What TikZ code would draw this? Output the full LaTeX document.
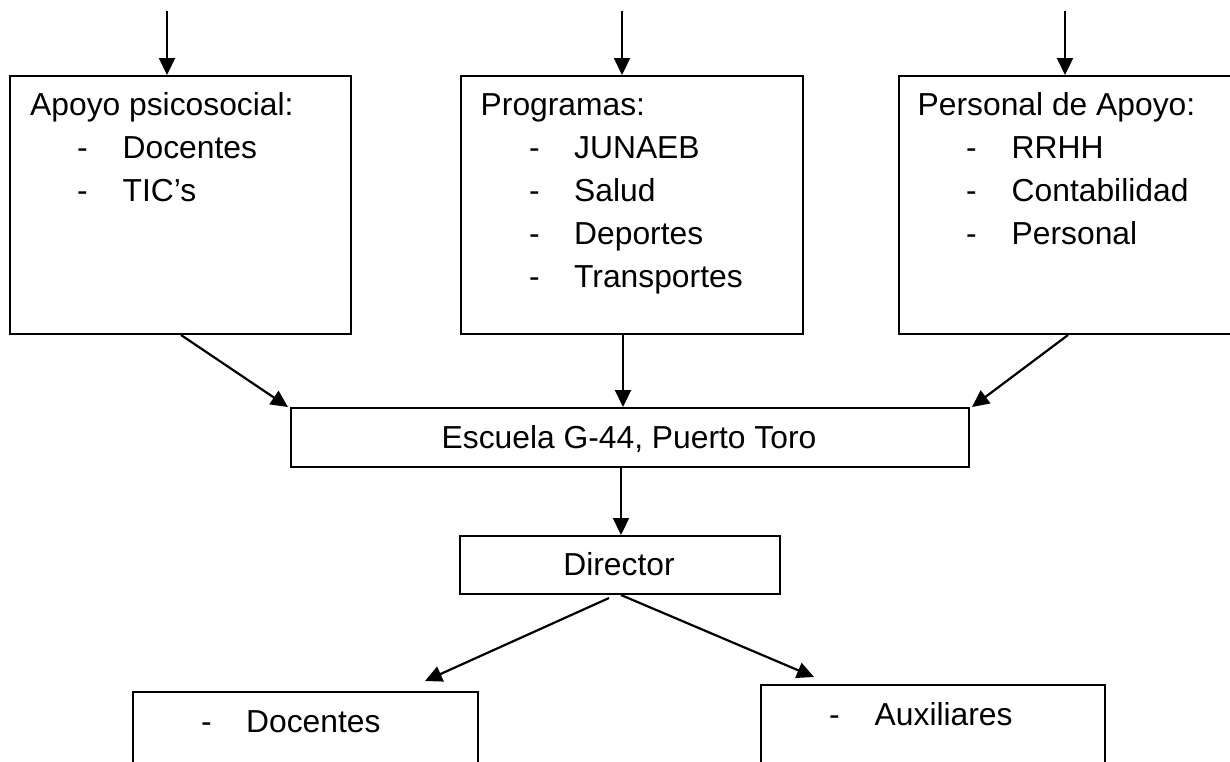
\documentclass[tikz,border=0pt]{standalone}
\usepackage{fontspec}
\setmainfont{Liberation Sans}
\usetikzlibrary{arrows.meta}
\tikzset{
  box/.style={draw, line width=2pt, inner sep=0pt, anchor=north west, rectangle},
  txt/.style={anchor=base west, inner sep=0pt, font=\fontsize{31.8pt}{38pt}\selectfont},
  ctxt/.style={anchor=base, inner sep=0pt, font=\fontsize{31.8pt}{38pt}\selectfont},
  arr/.style={line width=2.2pt, -{Triangle[length=17pt,width=16pt]}}
}
\begin{document}
\begin{tikzpicture}[x=1pt,y=-1pt]
\clip (0,0) rectangle (1230,761);
\fill[white] (0,0) rectangle (1230,761);
% boxes
\node[box, minimum width=341pt, minimum height=258pt] (b1) at (9,75) {};
\node[box, minimum width=342pt, minimum height=258pt] (b2) at (460,75) {};
\node[box, minimum width=342pt, minimum height=258pt] (b3) at (898,75) {};
\node[box, minimum width=678pt, minimum height=59pt] (esc) at (290,407) {};
\node[box, minimum width=320pt, minimum height=58pt] (dir) at (459,535) {};
\node[box, minimum width=345pt, minimum height=120pt] (doc) at (132,691) {};
\node[box, minimum width=344pt, minimum height=120pt] (aux) at (760,684) {};
% texts box 1
\node[txt] (t1a) at (30,115) {Apoyo psicosocial:};
\node[txt] (t1b) at (77,158) {-};
\node[txt] (t1c) at (122.5,158) {Docentes};
\node[txt] (t1d) at (77,201) {-};
\node[txt] (t1e) at (122.5,201) {TIC’s};
% texts box 2
\node[txt] (t2a) at (480.5,115) {Programas:};
\node[txt] (t2b) at (529,158) {-};
\node[txt] (t2c) at (574,158) {JUNAEB};
\node[txt] (t2d) at (529,201) {-};
\node[txt] (t2e) at (574,201) {Salud};
\node[txt] (t2f) at (529,244) {-};
\node[txt] (t2g) at (574,244) {Deportes};
\node[txt] (t2h) at (529,287) {-};
\node[txt] (t2i) at (574,287) {Transportes};
% texts box 3
\node[txt] (t3a) at (917.5,115) {Personal de Apoyo:};
\node[txt] (t3b) at (966,158) {-};
\node[txt] (t3c) at (1011.5,158) {RRHH};
\node[txt] (t3d) at (966,201) {-};
\node[txt] (t3e) at (1011.5,201) {Contabilidad};
\node[txt] (t3f) at (966,244) {-};
\node[txt] (t3g) at (1011.5,244) {Personal};
% centre texts
\node[ctxt] (tesc) at (629,448) {Escuela G-44, Puerto Toro};
\node[ctxt] (tdir) at (619,575) {Director};
% bottom texts
\node[txt] (tdoca) at (201,732) {-};
\node[txt] (tdocb) at (246,732) {Docentes};
\node[txt] (tauxa) at (829,725) {-};
\node[txt] (tauxb) at (874.5,725) {Auxiliares};
% free ends
\coordinate (in1) at (167,11);
\coordinate (in2) at (622,11);
\coordinate (in3) at (1065,11);
% connectors
\draw[arr] (in1) -- (in1 |- b1.north);
\draw[arr] (in2) -- (in2 |- b2.north);
\draw[arr] (in3) -- (in3 |- b3.north);
\draw[arr] ([xshift=172pt]b1.south west) -- ([xshift=-2pt]esc.north west);
\draw[arr] ([xshift=-9pt]b2.south) -- ([xshift=-7pt]esc.north);
\draw[arr] ([xshift=170pt]b3.south west) -- ([xshift=2pt]esc.north east);
\draw[arr] ([xshift=-9pt]esc.south) -- ([xshift=1pt]dir.north);
\draw[arr] ([xshift=-11pt,yshift=-3pt]dir.south) -- ([xshift=293pt,yshift=10pt]doc.north west);
\draw[arr] ([xshift=1pt]dir.south) -- ([xshift=54pt,yshift=7pt]aux.north west);
\end{tikzpicture}
\end{document}
